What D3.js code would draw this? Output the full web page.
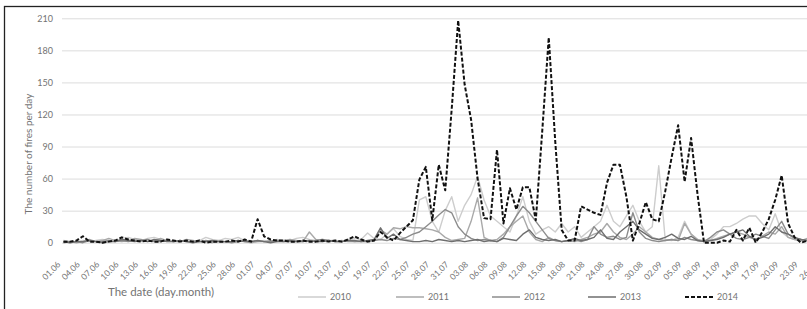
<!DOCTYPE html>
<html>
<head>
<meta charset="utf-8">
<script src="https://cdn.jsdelivr.net/npm/d3@7"></script>
<style>
  body { margin: 0; background: #fff; }
  text { font-family: Lato, "Open Sans", sans-serif; fill: #737373; }
</style>
</head>
<body>
<svg id="chart" width="807" height="309"></svg>
<script>
// daily data, 01.06 .. 28.09
var startDay = "2014-06-01";
var dayCount = 120;
var tickLabels = ["01.06", "04.06", "07.06", "10.06", "13.06", "16.06", "19.06", "22.06", "25.06", "28.06",
    "01.07", "04.07", "07.07", "10.07", "13.07", "16.07", "19.07", "22.07", "25.07", "28.07", "31.07",
    "03.08", "06.08", "09.08", "12.08", "15.08", "18.08", "21.08", "24.08", "27.08", "30.08",
    "02.09", "05.09", "08.09", "11.09", "14.09", "17.09", "20.09", "23.09", "26.09"];
var yTicks = [0, 30, 60, 90, 120, 150, 180, 210];
var years = ["2010", "2011", "2012", "2013", "2014"];

var fires2010 = [1,0,1,2,1,2,3,2,1,4, 5,3,2,4,5,3,2,1,2,1, 1,2,5,3,2,4,3,5,2,1,
    1,2,1,3,2,2,4,5,3,2, 3,2,2,1,3,4,3,9,4,3, 8,13,6,3,2,40,43,20,10,30,
    43,20,35,45,62,40,25,20,15,10, 25,43,20,8,12,15,10,18,10,15, 5,10,15,20,35,20,15,25,35,20,
    10,15,72,3,2,5,20,8,3,2, 3,8,15,15,18,22,25,25,18,12, 27,10,5,3,2,1,2,1,1,1];
var fires2011 = [2,1,0,1,3,1,2,4,2,1, 2,4,3,1,2,4,2,1,1,3, 2,1,1,0,2,1,1,2,1,0,
    1,1,2,1,2,3,2,1,10,3, 1,2,1,2,1,1,2,1,2,12, 8,14,13,15,14,14,13,12,10,5,
    2,3,4,20,42,5,2,3,8,15, 20,25,10,3,1,5,2,1,2,1, 3,5,8,10,18,10,5,3,8,15,
    10,5,3,2,3,2,18,8,3,1, 2,4,6,8,10,8,5,3,6,10, 8,15,5,3,2,4,3,2,1,2];
var fires2012 = [0,1,1,0,2,1,1,2,1,2, 1,2,2,3,1,1,2,1,2,1, 1,1,2,1,1,1,0,1,2,1,
    2,1,1,2,1,1,1,2,1,2, 3,2,1,1,2,1,1,1,2,3, 2,4,3,5,8,10,15,20,26,31,
    28,15,8,4,2,3,2,1,5,15, 25,34,28,20,12,4,2,1,2,3, 1,3,15,8,5,6,3,5,28,10,
    4,2,1,2,3,2,5,3,2,1, 5,10,12,8,4,3,5,8,6,4, 12,20,8,4,3,2,5,3,2,1];
var fires2013 = [1,0,1,1,2,1,0,1,1,3, 2,1,2,1,3,2,1,1,2,1, 0,1,1,2,1,1,1,2,1,1,
    2,1,0,1,1,2,1,1,2,1, 1,2,1,1,2,2,1,2,3,14, 4,8,3,2,1,1,2,1,3,2,
    1,2,1,2,3,1,2,1,4,3, 2,8,12,5,3,2,3,1,2,4, 2,3,5,12,4,3,10,15,20,12,
    8,4,3,5,8,4,3,6,2,1, 2,3,5,8,10,12,6,3,5,8, 15,10,8,5,3,2,1,2,1,1];
var fires2014 = [1,1,2,6,1,1,0,1,2,5, 3,2,1,2,1,1,3,2,1,2, 1,2,0,1,1,1,2,1,3,1,
    22,6,3,2,2,1,1,2,1,1, 2,1,2,1,3,6,3,1,2,10, 5,2,9,15,21,59,71,21,73,49,
    125,208,148,115,60,23,22,87,18,51, 31,52,52,21,105,192,95,12,2,2, 34,31,28,26,56,73,73,43,2,18,
    38,22,20,48,80,110,57,98,45,0, 0,0,2,1,12,2,14,0,10,22, 40,63,18,5,0,2,1,0,1,0];

var seriesValues = [fires2010, fires2011, fires2012, fires2013, fires2014];
var colors = ["#cdcdcd", "#a9a9a9", "#8c8c8c", "#6e6e6e", "#111111"];

var fmt = d3.timeFormat("%d.%m");
var start = d3.timeParse("%Y-%m-%d")(startDay);
var categories = d3.timeDay.range(start, d3.timeDay.offset(start, dayCount)).map(fmt);

var svg = d3.select("#chart");

// frame (right/bottom cropped)
svg.append("rect")
    .attr("x", 4.5).attr("y", 6.5)
    .attr("width", 900).attr("height", 400)
    .attr("fill", "none").attr("stroke", "#222").attr("stroke-width", 1.3);

var x = d3.scalePoint().domain(categories).range([63.5, 63.5 + 6.47 * (dayCount - 1)]);
var y = d3.scaleLinear().domain([0, 210]).range([242.7, 18.3]);

// gridlines
svg.append("g")
    .attr("transform", "translate(62,0)")
    .call(d3.axisLeft(y).tickValues(yTicks).tickSize(-800).tickFormat(""))
    .call(function (g) { g.select(".domain").remove(); })
    .selectAll("line").attr("stroke", "#dcdcdc");

// y labels
svg.append("g")
    .attr("transform", "translate(62,0)")
    .call(d3.axisLeft(y).tickValues(yTicks).tickSize(0).tickPadding(9))
    .call(function (g) { g.select(".domain").remove(); })
    .selectAll("text")
    .style("font-family", "Lato, sans-serif")
    .style("font-size", "9px").attr("fill", "#737373");

// x labels
var xAxis = svg.append("g")
    .attr("transform", "translate(0,246)")
    .call(d3.axisBottom(x).tickValues(tickLabels).tickSize(0));
xAxis.select(".domain").remove();
xAxis.selectAll("text")
    .style("font-family", "Lato, sans-serif")
    .style("font-size", "8.5px").attr("fill", "#737373")
    .attr("text-anchor", "end")
    .attr("x", 0).attr("y", 0).attr("dy", "0.35em")
    .attr("transform", "translate(-5,17) rotate(-45)");

// lines
var line = d3.line()
    .x(function (d, i) { return x(categories[i]); })
    .y(function (d) { return y(d); });

for (var i = 0; i < seriesValues.length; i++) {
    svg.append("path")
        .datum(seriesValues[i])
        .attr("fill", "none")
        .attr("stroke", colors[i])
        .attr("stroke-width", i === 4 ? 2 : 1.4)
        .attr("stroke-dasharray", i === 4 ? "4,2" : null)
        .attr("stroke-linejoin", "round")
        .attr("d", line);
}

// axis titles
svg.append("text")
    .attr("transform", "translate(32,154) rotate(-90)")
    .attr("text-anchor", "middle")
    .style("font-size", "10px")
    .text("The number of fires per day");

svg.append("text")
    .attr("x", 108).attr("y", 296)
    .style("font-size", "11.5px")
    .text("The date (day.month)");

// legend
var legendX = [298, 396, 492, 588, 685];
for (i = 0; i < years.length; i++) {
    var lg = svg.append("g").attr("transform", "translate(" + legendX[i] + ",297)");
    lg.append("line")
        .attr("x1", 0).attr("x2", 28).attr("y1", 0).attr("y2", 0)
        .attr("stroke", colors[i])
        .attr("stroke-width", i === 4 ? 2 : 1.5)
        .attr("stroke-dasharray", i === 4 ? "4,2" : null);
    lg.append("text")
        .attr("x", 32).attr("y", 0).attr("dy", "0.35em")
        .style("font-size", "9px")
        .text(years[i]);
}
</script>
</body>
</html>
